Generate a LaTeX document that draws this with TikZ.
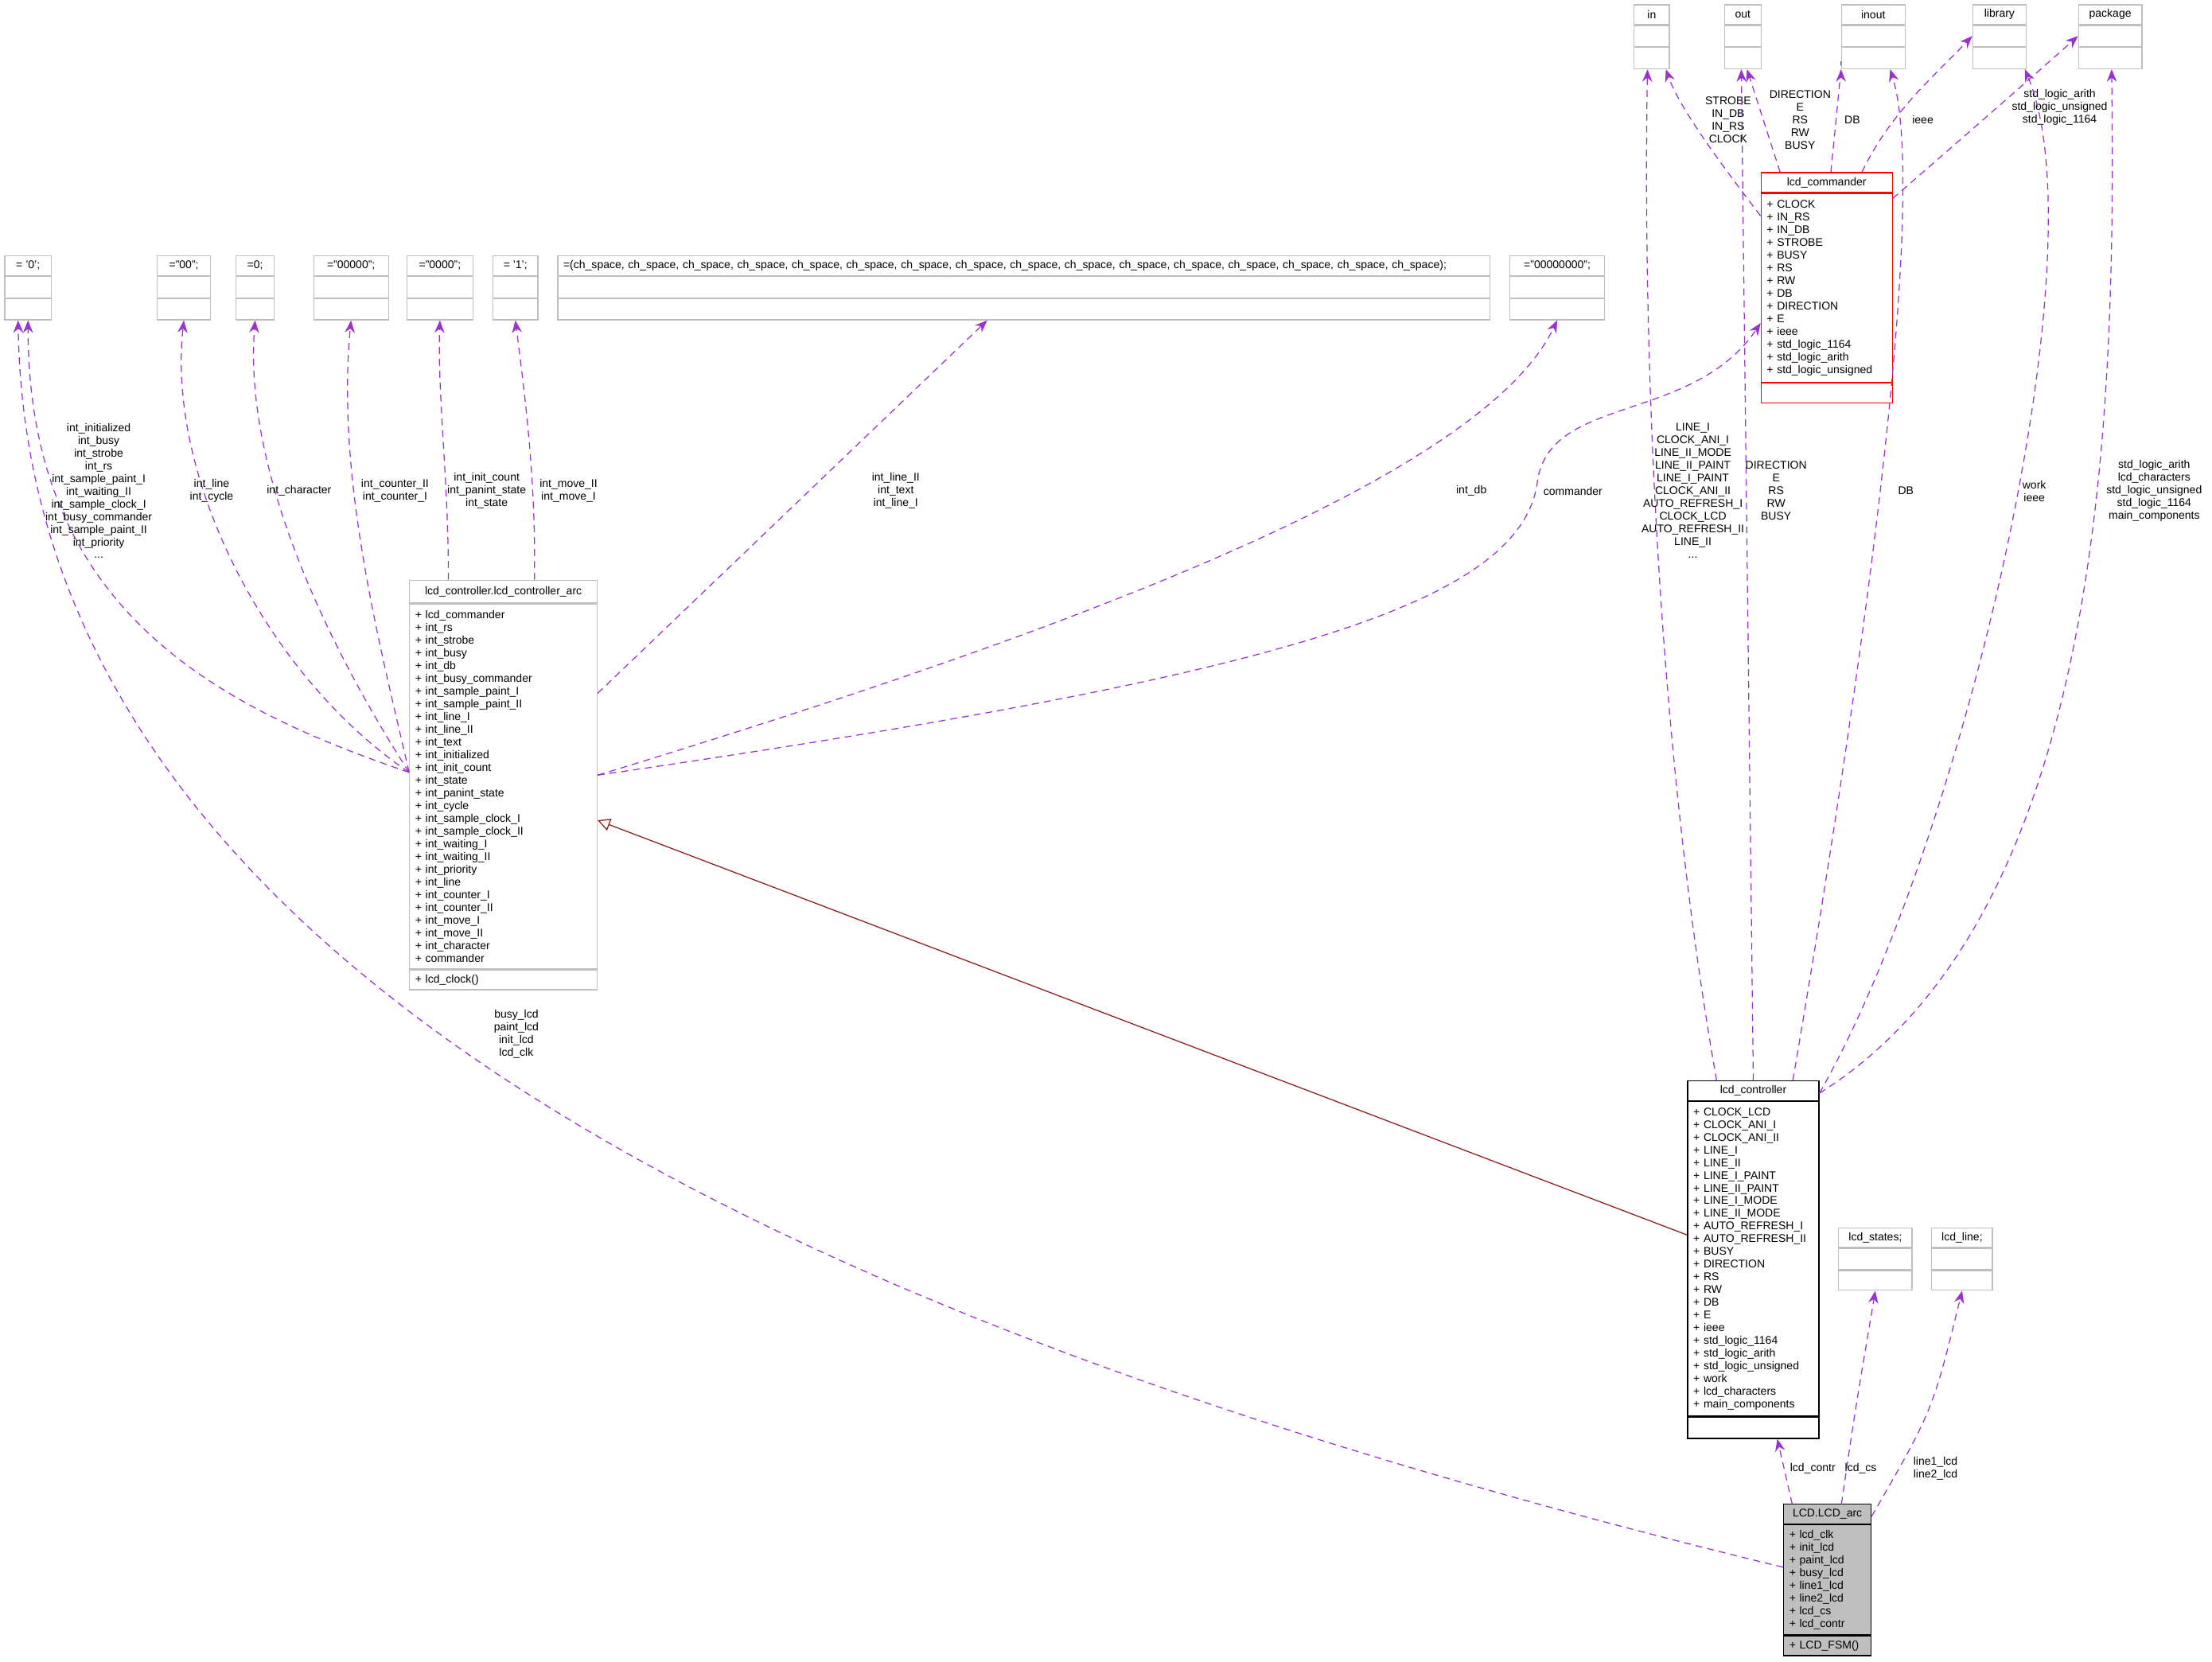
\documentclass[tikz,border=0pt]{standalone}
\usepackage{fontspec}
\setmainfont{Liberation Sans}
\usetikzlibrary{positioning,arrows.meta,calc}
\definecolor{depcol}{HTML}{9A32CD}
\definecolor{inhcol}{HTML}{8B1A1A}
\definecolor{boxgray}{HTML}{BFBFBF}
\tikzset{
  cls/.style={draw=boxgray, anchor=north west, inner xsep=0.08cm, inner ysep=0.02cm, font=\fontsize{4.5}{5.13}\selectfont},
  dep/.style={depcol, thin, dash pattern=on 2.8pt off 2pt, -{Stealth[length=5pt,width=4pt]}},
  inh/.style={inhcol, thin, -{Triangle[open,length=5pt,width=5pt]}},
  lbl/.style={align=center, inner sep=0pt, font=\fontsize{4.5}{5.13}\selectfont}
}
\begin{document}
\begin{tikzpicture}[x=0.02cm, y=-0.02cm]
\useasboundingbox (0,0) rectangle (1568,1178);

% constants
\node[cls, minimum width=0.66cm, minimum height=0.28cm] (zero) at (3,181) {= '0';};
\node[cls, minimum width=0.66cm, minimum height=0.3cm, below=0pt of zero] (zero-attr) {};
\node[cls, minimum width=0.66cm, minimum height=0.3cm, below=0pt of zero-attr] (zero-meth) {};
\node[cls, minimum width=0.76cm, minimum height=0.28cm] (dqtwo) at (111,181) {="00";};
\node[cls, minimum width=0.76cm, minimum height=0.3cm, below=0pt of dqtwo] (dqtwo-attr) {};
\node[cls, minimum width=0.76cm, minimum height=0.3cm, below=0pt of dqtwo-attr] (dqtwo-meth) {};
\node[cls, minimum width=0.54cm, minimum height=0.28cm] (eqzero) at (167,181) {=0;};
\node[cls, minimum width=0.54cm, minimum height=0.3cm, below=0pt of eqzero] (eqzero-attr) {};
\node[cls, minimum width=0.54cm, minimum height=0.3cm, below=0pt of eqzero-attr] (eqzero-meth) {};
\node[cls, minimum width=1.06cm, minimum height=0.28cm] (dqfive) at (222,181) {="00000";};
\node[cls, minimum width=1.06cm, minimum height=0.3cm, below=0pt of dqfive] (dqfive-attr) {};
\node[cls, minimum width=1.06cm, minimum height=0.3cm, below=0pt of dqfive-attr] (dqfive-meth) {};
\node[cls, minimum width=0.94cm, minimum height=0.28cm] (dqfour) at (288,181) {="0000";};
\node[cls, minimum width=0.94cm, minimum height=0.3cm, below=0pt of dqfour] (dqfour-attr) {};
\node[cls, minimum width=0.94cm, minimum height=0.3cm, below=0pt of dqfour-attr] (dqfour-meth) {};
\node[cls, minimum width=0.64cm, minimum height=0.28cm] (one) at (349,181) {= '1';};
\node[cls, minimum width=0.64cm, minimum height=0.3cm, below=0pt of one] (one-attr) {};
\node[cls, minimum width=0.64cm, minimum height=0.3cm, below=0pt of one-attr] (one-meth) {};
\node[cls, minimum width=13.22cm, minimum height=0.28cm, text width=13.06cm] (space) at (395,181) {=(ch\_space, ch\_space, ch\_space, ch\_space, ch\_space, ch\_space, ch\_space, ch\_space, ch\_space, ch\_space, ch\_space, ch\_space, ch\_space, ch\_space, ch\_space, ch\_space);};
\node[cls, minimum width=13.22cm, minimum height=0.3cm, below=0pt of space] (space-attr) {};
\node[cls, minimum width=13.22cm, minimum height=0.3cm, below=0pt of space-attr] (space-meth) {};
\node[cls, minimum width=1.34cm, minimum height=0.28cm] (dqeight) at (1070,181) {="00000000";};
\node[cls, minimum width=1.34cm, minimum height=0.3cm, below=0pt of dqeight] (dqeight-attr) {};
\node[cls, minimum width=1.34cm, minimum height=0.3cm, below=0pt of dqeight-attr] (dqeight-meth) {};

% vhdl keywords
\node[cls, minimum width=0.5cm, minimum height=0.28cm] (in) at (1158,3) {in};
\node[cls, minimum width=0.5cm, minimum height=0.3cm, below=0pt of in] (in-attr) {};
\node[cls, minimum width=0.5cm, minimum height=0.3cm, below=0pt of in-attr] (in-meth) {};
\node[cls, minimum width=0.52cm, minimum height=0.28cm] (out) at (1222,3) {out};
\node[cls, minimum width=0.52cm, minimum height=0.3cm, below=0pt of out] (out-attr) {};
\node[cls, minimum width=0.52cm, minimum height=0.3cm, below=0pt of out-attr] (out-meth) {};
\node[cls, minimum width=0.9cm, minimum height=0.28cm] (inout) at (1305,3) {inout};
\node[cls, minimum width=0.9cm, minimum height=0.3cm, below=0pt of inout] (inout-attr) {};
\node[cls, minimum width=0.9cm, minimum height=0.3cm, below=0pt of inout-attr] (inout-meth) {};
\node[cls, minimum width=0.76cm, minimum height=0.28cm] (library) at (1398,3) {library};
\node[cls, minimum width=0.76cm, minimum height=0.3cm, below=0pt of library] (library-attr) {};
\node[cls, minimum width=0.76cm, minimum height=0.3cm, below=0pt of library-attr] (library-meth) {};
\node[cls, minimum width=0.9cm, minimum height=0.28cm] (package) at (1473,3) {package};
\node[cls, minimum width=0.9cm, minimum height=0.3cm, below=0pt of package] (package-attr) {};
\node[cls, minimum width=0.9cm, minimum height=0.3cm, below=0pt of package-attr] (package-meth) {};

% lcd_commander
\node[cls, draw=red, minimum width=1.86cm, minimum height=0.28cm] (cmd) at (1248,122) {lcd\_commander};
\node[cls, draw=red, minimum width=1.86cm, minimum height=2.68cm, text width=1.7cm, below=0pt of cmd] (cmd-attr) {+ CLOCK\\+ IN\_RS\\+ IN\_DB\\+ STROBE\\+ BUSY\\+ RS\\+ RW\\+ DB\\+ DIRECTION\\+ E\\+ ieee\\+ std\_logic\_1164\\+ std\_logic\_arith\\+ std\_logic\_unsigned};
\node[cls, draw=red, minimum width=1.86cm, minimum height=0.28cm, below=0pt of cmd-attr] (cmd-meth) {};

% lcd_controller.lcd_controller_arc
\node[cls, minimum width=2.66cm, minimum height=0.32cm] (arc) at (290,411) {lcd\_controller.lcd\_controller\_arc};
\node[cls, minimum width=2.66cm, minimum height=5.18cm, text width=2.5cm, below=0pt of arc] (arc-attr) {+ lcd\_commander\\+ int\_rs\\+ int\_strobe\\+ int\_busy\\+ int\_db\\+ int\_busy\_commander\\+ int\_sample\_paint\_I\\+ int\_sample\_paint\_II\\+ int\_line\_I\\+ int\_line\_II\\+ int\_text\\+ int\_initialized\\+ int\_init\_count\\+ int\_state\\+ int\_panint\_state\\+ int\_cycle\\+ int\_sample\_clock\_I\\+ int\_sample\_clock\_II\\+ int\_waiting\_I\\+ int\_waiting\_II\\+ int\_priority\\+ int\_line\\+ int\_counter\_I\\+ int\_counter\_II\\+ int\_move\_I\\+ int\_move\_II\\+ int\_character\\+ commander};
\node[cls, minimum width=2.66cm, minimum height=0.28cm, text width=2.5cm, below=0pt of arc-attr] (arc-meth) {+ lcd\_clock()};

% lcd_controller
\node[cls, draw=black, minimum width=1.86cm, minimum height=0.28cm] (ctrl) at (1196,766) {lcd\_controller};
\node[cls, draw=black, minimum width=1.86cm, minimum height=4.46cm, text width=1.7cm, below=0pt of ctrl] (ctrl-attr) {+ CLOCK\_LCD\\+ CLOCK\_ANI\_I\\+ CLOCK\_ANI\_II\\+ LINE\_I\\+ LINE\_II\\+ LINE\_I\_PAINT\\+ LINE\_II\_PAINT\\+ LINE\_I\_MODE\\+ LINE\_II\_MODE\\+ AUTO\_REFRESH\_I\\+ AUTO\_REFRESH\_II\\+ BUSY\\+ DIRECTION\\+ RS\\+ RW\\+ DB\\+ E\\+ ieee\\+ std\_logic\_1164\\+ std\_logic\_arith\\+ std\_logic\_unsigned\\+ work\\+ lcd\_characters\\+ main\_components};
\node[cls, draw=black, minimum width=1.86cm, minimum height=0.3cm, below=0pt of ctrl-attr] (ctrl-meth) {};

% types
\node[cls, minimum width=1.04cm, minimum height=0.28cm] (states) at (1303,870) {lcd\_states;};
\node[cls, minimum width=1.04cm, minimum height=0.3cm, below=0pt of states] (states-attr) {};
\node[cls, minimum width=1.04cm, minimum height=0.28cm, below=0pt of states-attr] (states-meth) {};
\node[cls, minimum width=0.86cm, minimum height=0.28cm] (line) at (1369,870) {lcd\_line;};
\node[cls, minimum width=0.86cm, minimum height=0.3cm, below=0pt of line] (line-attr) {};
\node[cls, minimum width=0.86cm, minimum height=0.28cm, below=0pt of line-attr] (line-meth) {};

% LCD.LCD_arc
\node[cls, draw=black, fill=boxgray, minimum width=1.24cm, minimum height=0.28cm] (lcd) at (1264,1066) {LCD.LCD\_arc};
\node[cls, draw=black, fill=boxgray, minimum width=1.24cm, minimum height=1.56cm, text width=1.08cm, below=0pt of lcd] (lcd-attr) {+ lcd\_clk\\+ init\_lcd\\+ paint\_lcd\\+ busy\_lcd\\+ line1\_lcd\\+ line2\_lcd\\+ lcd\_cs\\+ lcd\_contr};
\node[cls, draw=black, fill=boxgray, minimum width=1.24cm, minimum height=0.28cm, text width=1.08cm, below=0pt of lcd-attr] (lcd-meth) {+ LCD\_FSM()};

% arc dependencies
\draw[dep] ($(arc-attr.west)+(0,-10)$) .. controls (150,500) and (20,430) .. ($(zero-meth.south)+(0,0)$);
\draw[dep] ($(arc-attr.west)+(0,-10)$) .. controls (190,480) and (118,340) .. (dqtwo-meth.south);
\draw[dep] ($(arc-attr.west)+(0,-10)$) .. controls (240,470) and (172,340) .. (eqzero-meth.south);
\draw[dep] ($(arc-attr.west)+(0,-10)$) .. controls (270,460) and (238,340) .. (dqfive-meth.south);
\draw[dep] ($(arc.north)+(-39,0)$) .. controls (318,340) and (310,280) .. (dqfour-meth.south);
\draw[dep] ($(arc.north)+(22,0)$) .. controls (380,340) and (372,280) .. (one-meth.south);
\draw[dep] ($(arc-attr.east)+(0,-66)$) -- ($(space-meth.south)+(-26,0)$);
\draw[dep] ($(arc-attr.east)+(0,-8)$) .. controls (750,450) and (1050,340) .. (dqeight-meth.south);
\draw[dep] ($(arc-attr.east)+(0,-8)$) .. controls (900,480) and (1080,430) .. (1090,340) .. controls (1100,280) and (1200,300) .. ($(cmd-attr.west)+(0,25)$);
\node[lbl] (l-zero) at (70,348) {int\_initialized\\int\_busy\\int\_strobe\\int\_rs\\int\_sample\_paint\_I\\int\_waiting\_II\\int\_sample\_clock\_I\\int\_busy\_commander\\int\_sample\_paint\_II\\int\_priority\\...};
\node[lbl] (l-dqtwo) at (150,348) {int\_line\\int\_cycle};
\node[lbl] (l-eqzero) at (212,348) {int\_character};
\node[lbl] (l-dqfive) at (280,348) {int\_counter\_II\\int\_counter\_I};
\node[lbl] (l-dqfour) at (345,348) {int\_init\_count\\int\_panint\_state\\int\_state};
\node[lbl] (l-one) at (403,348) {int\_move\_II\\int\_move\_I};
\node[lbl] (l-space) at (635,348) {int\_line\_II\\int\_text\\int\_line\_I};
\node[lbl] (l-dqeight) at (1043,348) {int\_db};
\node[lbl] (l-cmd) at (1115,348) {commander};

% commander dependencies
\draw[dep] ($(cmd-attr.west)+(0,-51)$) .. controls (1215,110) and (1190,75) .. ($(in-meth.south)+(10,0)$);
\draw[dep] ($(cmd.north)+(-33,0)$) -- ($(out-meth.south)+(3,0)$);
\draw[dep] ($(cmd.north)+(3,0)$) -- (inout-meth.south west) -- ++(0,0);
\draw[dep] ($(cmd.north)+(25,0)$) .. controls (1340,80) and (1370,55) .. ($(library-attr.west)+(0,0)$);
\draw[dep] ($(cmd-attr.north east)+(0,4)$) .. controls (1400,90) and (1440,55) .. ($(package-attr.west)+(0,0)$);
\node[lbl] (l-cin) at (1225,85) {STROBE\\IN\_DB\\IN\_RS\\CLOCK};
\node[lbl] (l-cout) at (1276,85) {DIRECTION\\E\\RS\\RW\\BUSY};
\node[lbl] (l-cinout) at (1313,85) {DB};
\node[lbl] (l-clib) at (1363,85) {ieee};
\node[lbl] (l-cpkg) at (1460,76) {std\_logic\_arith\\std\_logic\_unsigned\\std\_logic\_1164};

% controller dependencies
\draw[dep] ($(ctrl.north)+(-26,0)$) .. controls (1170,500) and (1165,200) .. ($(in-meth.south)+(-3,0)$);
\draw[dep] ($(ctrl.north)+(0,0)$) -- ($(out-meth.south)+(-1,0)$);
\draw[dep] ($(ctrl.north)+(28,0)$) .. controls (1330,420) and (1365,130) .. ($(inout-meth.south)+(12,0)$);
\draw[dep] ($(ctrl.north east)+(0,9)$) .. controls (1390,600) and (1490,180) .. ($(library-meth.south)+(18,0)$);
\draw[dep] ($(ctrl.north east)+(0,9)$) .. controls (1490,650) and (1500,300) .. ($(package-meth.south)+(1,0)$);
\node[lbl] (l-kin) at (1200,348) {LINE\_I\\CLOCK\_ANI\_I\\LINE\_II\_MODE\\LINE\_II\_PAINT\\LINE\_I\_PAINT\\CLOCK\_ANI\_II\\AUTO\_REFRESH\_I\\CLOCK\_LCD\\AUTO\_REFRESH\_II\\LINE\_II\\...};
\node[lbl] (l-kout) at (1259,348) {DIRECTION\\E\\RS\\RW\\BUSY};
\node[lbl] (l-kinout) at (1351,348) {DB};
\node[lbl] (l-klib) at (1442,348) {work\\ieee};
\node[lbl] (l-kpkg) at (1527,348) {std\_logic\_arith\\lcd\_characters\\std\_logic\_unsigned\\std\_logic\_1164\\main\_components};

% LCD_arc dependencies
\draw[dep] ($(lcd.north)+(-25,0)$) -- ($(ctrl-meth.south)+(17,0)$);
\draw[dep] ($(lcd.north)+(10,0)$) .. controls (1315,1000) .. (states-meth.south);
\draw[dep] ($(lcd.north east)+(0,9)$) .. controls (1370,1000) .. (line-meth.south);
\draw[dep] ($(lcd-attr.west)+(0,-9)$) .. controls (600,950) and (20,700) .. ($(zero-meth.south)+(-7,0)$);
\node[lbl] (l-lctrl) at (1285,1041) {lcd\_contr};
\node[lbl] (l-lstates) at (1319,1041) {lcd\_cs};
\node[lbl] (l-lline) at (1372,1041) {line1\_lcd\\line2\_lcd};
\node[lbl] (l-lzero) at (366,733) {busy\_lcd\\paint\_lcd\\init\_lcd\\lcd\_clk};

% inheritance
\draw[inh] ($(ctrl-attr.west)+(0,-17)$) -- ($(arc-attr.east)+(0,24)$);
\end{tikzpicture}
\end{document}
